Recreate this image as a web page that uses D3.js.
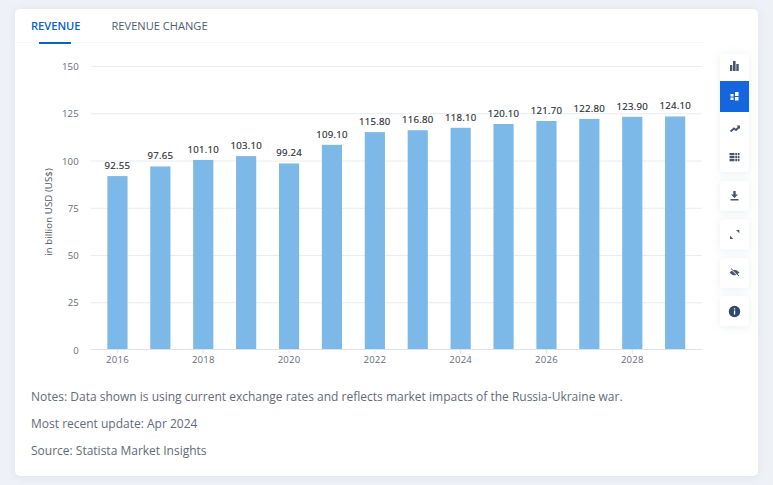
<!DOCTYPE html>
<html><head><meta charset="utf-8">
<script src="https://cdnjs.cloudflare.com/ajax/libs/d3/7.8.5/d3.min.js"></script>
<style>html,body{margin:0;padding:0;background:#eef1f6;overflow:hidden}svg{display:block}text{font-family:"Open Sans",sans-serif}</style>
</head><body><svg id="c" width="773" height="485"></svg>
<script>
const years=[2016,2017,2018,2019,2020,2021,2022,2023,2024,2025,2026,2027,2028,2029];
const revenue=[92.55,97.65,101.10,103.10,99.24,109.10,115.80,116.80,118.10,120.10,121.70,122.80,123.90,124.10];
const yTicks=[0,25,50,75,100,125,150];
const xTickYears=[2016,2018,2020,2022,2024,2026,2028];
const notes=["Notes: Data shown is using current exchange rates and reflects market impacts of the Russia-Ukraine war.","Most recent update: Apr 2024","Source: Statista Market Insights"];
const tabs=["REVENUE","REVENUE CHANGE"];

const svg=d3.select("#c");
const defs=svg.append("defs");
const f=defs.append("filter").attr("id","sh").attr("x","-30%").attr("y","-30%").attr("width","160%").attr("height","160%");
f.append("feDropShadow").attr("dx",0).attr("dy",1).attr("stdDeviation",4).attr("flood-color","#9aa8bd").attr("flood-opacity",.2);

svg.append("rect").attr("x",15).attr("y",9).attr("width",743).attr("height",467).attr("rx",5).attr("fill","#fff").attr("filter","url(#sh)");

// tabs
svg.append("text").attr("x",31).attr("y",30).attr("font-size",11.1).attr("font-weight",600).attr("fill","#0a62c8").text(tabs[0]);
svg.append("text").attr("x",111.5).attr("y",30).attr("font-size",11.1).attr("fill","#4f5d73").text(tabs[1]);
svg.append("line").attr("x1",15).attr("x2",704).attr("y1",42.5).attr("y2",42.5).attr("stroke","#f6f7f9");
svg.append("rect").attr("x",39).attr("y",42).attr("width",32).attr("height",2).attr("fill","#0a62c8");

// scales
const x=d3.scaleBand().domain(years).range([96,696.6]).paddingInner(0.53).paddingOuter(0.265);
const y=d3.scaleLinear().domain([0,150]).range([349.5,66]);

// grid
svg.append("g").selectAll("line").data(yTicks.filter(d=>d>0)).join("line")
 .attr("x1",91).attr("x2",702).attr("y1",d=>y(d)+.5).attr("y2",d=>y(d)+.5).attr("stroke","#e9ecf1");

// y axis
const yAxis=d3.axisLeft(y).tickValues(yTicks).tickSize(0).tickPadding(0);
const gy=svg.append("g").attr("transform","translate(79,0.5)").call(yAxis);
gy.select(".domain").remove();
gy.selectAll("text").attr("font-size",9.6).attr("fill","#666d78").attr("font-family",'"Open Sans",sans-serif').attr("letter-spacing",.2);

svg.append("text").attr("transform","translate(52,212) rotate(-90)").attr("text-anchor","middle").attr("font-size",9.6).attr("letter-spacing",.1).attr("fill","#4f5560").text("in billion USD (US$)");

// bars
svg.append("g").selectAll("rect").data(revenue).join("rect")
 .attr("x",(d,i)=>x(years[i])).attr("width",x.bandwidth()).attr("y",d=>y(d)+1.5).attr("height",d=>349.5-y(d)-1.5).attr("fill","#7cb8e8");

// baseline + x axis
const xAxis=d3.axisBottom(x).tickValues(xTickYears).tickSize(4).tickPadding(3);
const gx=svg.append("g").attr("transform","translate(0,349.5)").call(xAxis);
gx.select(".domain").remove();
gx.selectAll("line").attr("stroke","#dfe3e9");
gx.selectAll("text").attr("font-size",9.6).attr("fill","#666d78").attr("font-family",'"Open Sans",sans-serif').attr("letter-spacing",.2);
svg.append("line").attr("x1",91).attr("x2",702).attr("y1",349.5).attr("y2",349.5).attr("stroke","#dfe3e9");

// value labels
svg.append("g").selectAll("text").data(revenue).join("text")
 .attr("x",(d,i)=>x(years[i])+x.bandwidth()/2).attr("y",d=>y(d)-5.5).attr("text-anchor","middle")
 .attr("font-size",9.6).attr("font-weight",500).attr("letter-spacing",.25).attr("fill","#2b2f36").attr("stroke","#2b2f36").attr("stroke-width",.18).text(d=>d.toFixed(2));

// notes
svg.append("g").selectAll("text").data(notes).join("text")
 .attr("x",31).attr("y",(d,i)=>401+i*27).attr("font-size",12).attr("fill","#626b78").text(d=>d);

// toolbar
const bar=svg.append("g");
bar.append("rect").attr("x",720).attr("y",54).attr("width",29).attr("height",118).attr("rx",4).attr("fill","#fff").attr("filter","url(#sh)");
bar.append("rect").attr("x",720).attr("y",81).attr("width",29).attr("height",31).attr("fill","#1565dc");
[181,219.5,258,296].forEach(t=>bar.append("rect").attr("x",720).attr("y",t).attr("width",29).attr("height",30).attr("rx",4).attr("fill","#fff").attr("filter","url(#sh)"));
const ic="#46566b";
bar.append("path").attr("fill",ic).attr("d","M730 65h2.300v6h-2.300zM733 61h2.600v10H733zM736.300 64h2.400v7h-2.400z");
bar.append("path").attr("fill","#fff").attr("d","M730.500 94h3v2.500h-3zM730.500 97.500h3v2.500h-3zM735 92h3.500v4h-3.500zM735 97h3.500v3.500h-3.500z");
bar.append("path").attr("fill","none").attr("stroke",ic).attr("stroke-width",1.8).attr("d","M730.500 131.500l3.500-3 2 1.500 3-3");
bar.append("path").attr("fill",ic).attr("d","M736.500 125.500h3.500v3.500z");
bar.append("path").attr("fill",ic).attr("d","M729.500 153h5v2.200h-5zM735.300 153h1.700v2.200h-1.700zM737.700 153h1.800v2.200h-1.800zM729.500 156h5v2.200h-5zM735.300 156h1.700v2.200h-1.700zM737.700 156h1.800v2.200h-1.800zM729.500 159h5v2.200h-5zM735.300 159h1.700v2.200h-1.700zM737.700 159h1.800v2.200h-1.800z");
bar.append("path").attr("fill",ic).attr("d","M733.300 191h2.400v3.500h2.300l-3.500 3.500-3.500-3.500h2.300zM730.500 199h8v1.400h-8z");
bar.append("path").attr("fill",ic).attr("d","M736 230h3.300v3.300zM730 239h3.300l-3.300-3.300z");
bar.append("path").attr("fill",ic).attr("d","M729.500 272.500q5-5.500 10 0q-5 5.500-10 0z");
bar.append("path").attr("stroke","#fff").attr("stroke-width",1.2).attr("d","M731.500 269.500l7 6.500");
bar.append("path").attr("stroke",ic).attr("stroke-width",1).attr("d","M731 268.500l8 7.500");
bar.append("circle").attr("cx",734.5).attr("cy",311.500).attr("r",5.700).attr("fill","#2f4a6d");
bar.append("path").attr("fill","#fff").attr("d","M733.900 308.200h1.300v1.300h-1.300zM733.900 310.400h1.300v4.100h-1.300z");
</script></body></html>
